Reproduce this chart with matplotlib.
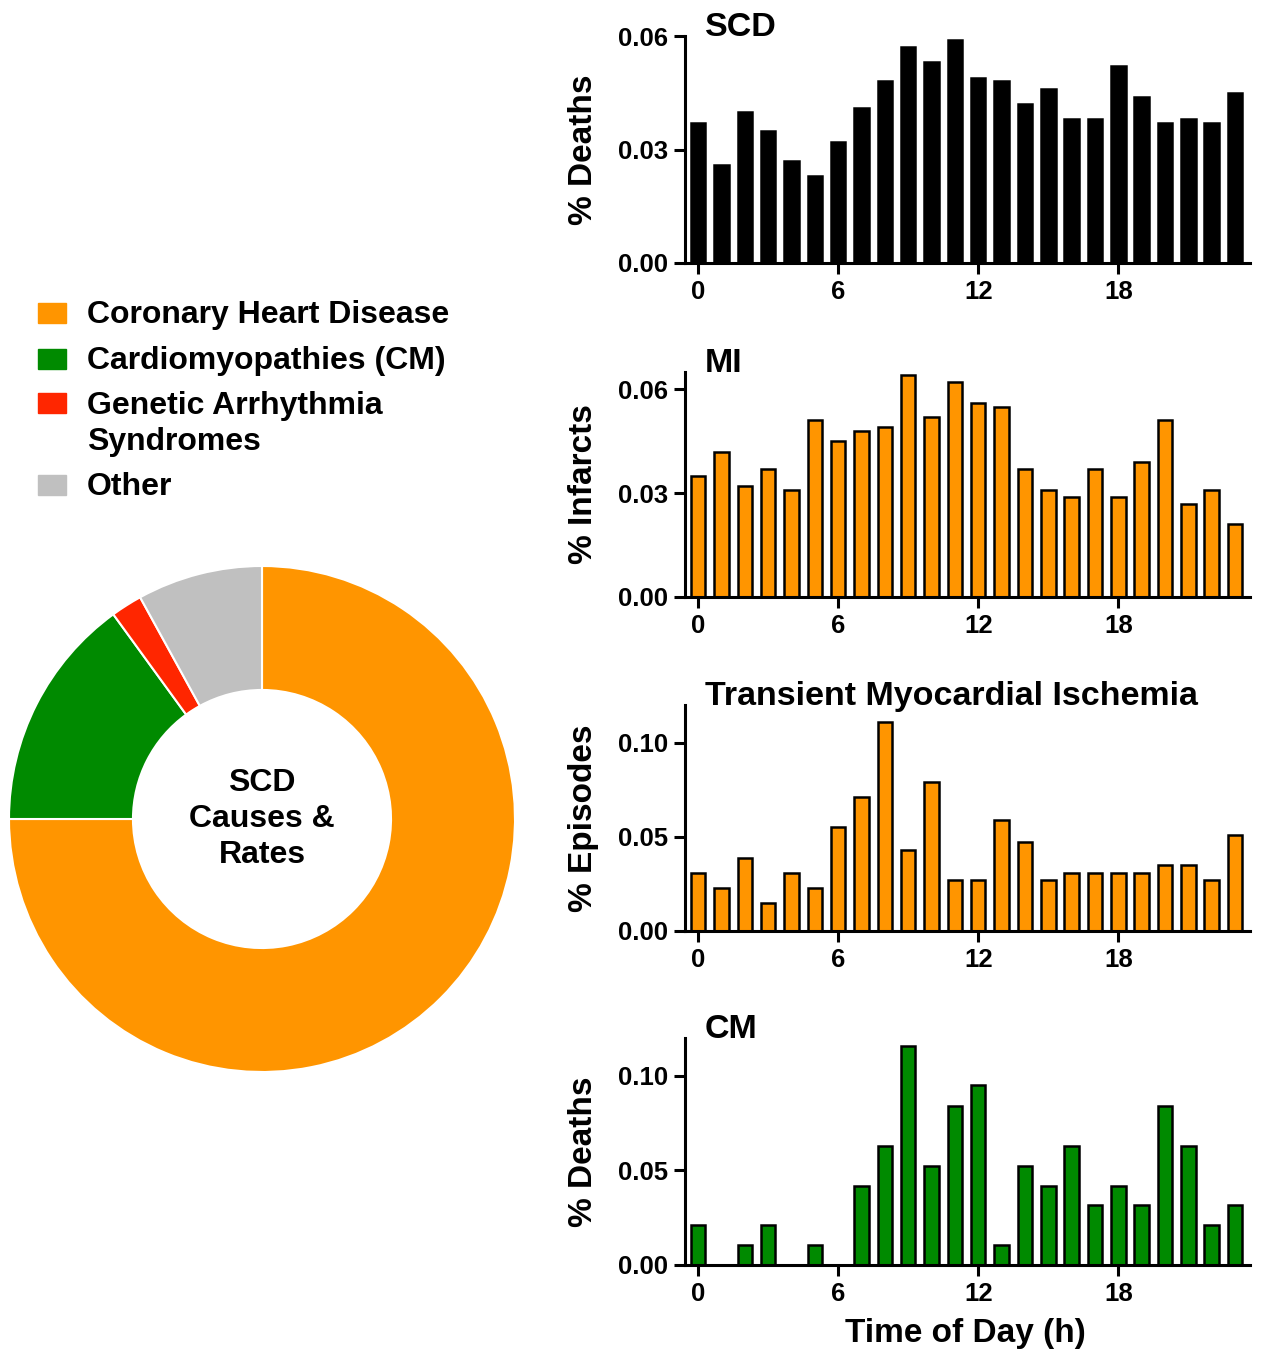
import numpy as np
import matplotlib
matplotlib.use("Agg")
import matplotlib.pyplot as plt
from matplotlib.patches import Rectangle

plt.rcParams['font.family'] = ['Liberation Sans', 'DejaVu Sans']
plt.rcParams['font.weight'] = 'bold'

# donut data
causes = ["Coronary Heart Disease", "Cardiomyopathies (CM)",
          "Genetic Arrhythmia\nSyndromes", "Other"]
cause_share = [75, 15, 2, 8]
cause_colors = ["#FF9500", "#008A00", "#FF2600", "#C0C0C0"]

# hourly data (fraction per hour)
hours = np.arange(24)
scd = [0.037, 0.026, 0.040, 0.035, 0.027, 0.023, 0.032, 0.041, 0.048, 0.057, 0.053, 0.059,
       0.049, 0.048, 0.042, 0.046, 0.038, 0.038, 0.052, 0.044, 0.037, 0.038, 0.037, 0.045]
mi = [0.035, 0.042, 0.032, 0.037, 0.031, 0.051, 0.045, 0.048, 0.049, 0.064, 0.052, 0.062,
      0.056, 0.055, 0.037, 0.031, 0.029, 0.037, 0.029, 0.039, 0.051, 0.027, 0.031, 0.021]
tmi = [0.031, 0.023, 0.039, 0.015, 0.031, 0.023, 0.055, 0.071, 0.111, 0.043, 0.079, 0.027,
       0.027, 0.059, 0.047, 0.027, 0.031, 0.031, 0.031, 0.031, 0.035, 0.035, 0.027, 0.051]
cm = [0.021, 0, 0.0105, 0.021, 0, 0.0105, 0, 0.042, 0.063, 0.116, 0.0525, 0.084,
      0.095, 0.0105, 0.0525, 0.042, 0.063, 0.0315, 0.042, 0.0315, 0.084, 0.063, 0.021, 0.0315]

panels = [
    ("SCD", "% Deaths", scd, "black", 0.06, [0, 0.03, 0.06]),
    ("MI", "% Infarcts", mi, "#FF9500", 0.065, [0, 0.03, 0.06]),
    ("Transient Myocardial Ischemia", "% Episodes", tmi, "#FF9500", 0.12, [0, 0.05, 0.10]),
    ("CM", "% Deaths", cm, "#008A00", 0.12, [0, 0.05, 0.10]),
]

W, H = 1263, 1357
fig = plt.figure(figsize=(W / 100, H / 100), dpi=100)

def px_box(x0, y_top, x1, y_bot):
    return [x0 / W, 1 - y_bot / H, (x1 - x0) / W, (y_bot - y_top) / H]

# bar panels
boxes = [(685, 36, 1250, 263), (685, 372, 1250, 597),
         (685, 705, 1250, 931), (685, 1038, 1250, 1265)]
for (title, ylab, vals, col, ytop, yt), b in zip(panels, boxes):
    ax = fig.add_axes(px_box(*b))
    ax.bar(hours, vals, width=0.62, color=col, edgecolor="black", linewidth=1.8, zorder=2)
    ax.set_xlim(-0.56, 23.64)
    ax.set_ylim(0, ytop)
    ax.set_xticks([0, 6, 12, 18])
    ax.set_yticks(yt)
    ax.set_yticklabels([f"{v:.2f}" for v in yt])
    for s in ["top", "right"]:
        ax.spines[s].set_visible(False)
    for s in ["left", "bottom"]:
        ax.spines[s].set_linewidth(2.2)
    ax.tick_params(width=2.2, length=8, labelsize=18.5, pad=4)
    ax.set_ylabel(ylab, fontsize=24, fontweight="bold")
    ax.yaxis.set_label_coords(-0.152, 0.5)
    ax.text(0.035, 1.0, title, transform=ax.transAxes, fontsize=24.5,
            fontweight="bold", ha="left", va="baseline")

ax.set_xlabel("Time of Day (h)", fontsize=24, fontweight="bold")
ax.xaxis.set_label_coords(0.496, -0.233)

# donut
axp = fig.add_axes(px_box(9, 566, 515, 1072))
axp.pie(cause_share, colors=cause_colors, startangle=90, counterclock=False,
        radius=1, wedgeprops=dict(width=0.49, edgecolor="white", linewidth=1.5))
axp.set_xlim(-1, 1)
axp.set_ylim(-1, 1)
axp.text(0, 0, "SCD\nCauses &\nRates", ha="center", va="center",
         fontsize=23, fontweight="bold", linespacing=1.24)

# legend drawn by hand: square sits on first line, text baseline is the last line
square_base = [323, 369, 413, 495]
text_base = [323, 369, 450, 495]
for lab, c, ys, yt in zip(causes, cause_colors, square_base, text_base):
    fig.patches.append(Rectangle((38 / W, 1 - ys / H), 28 / W, 20 / H,
                                 transform=fig.transFigure, color=c))
    fig.text(87 / W, 1 - yt / H, lab, fontsize=23, fontweight="bold",
             ha="left", va="baseline", linespacing=1.25)

fig.savefig("out.png", dpi=100)
